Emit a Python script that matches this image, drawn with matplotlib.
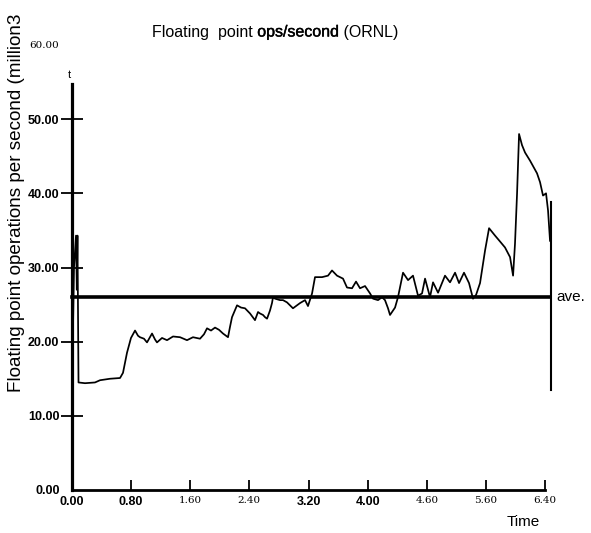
import matplotlib
matplotlib.use("Agg")
import matplotlib.pyplot as plt
import matplotlib.patheffects as pe

# ---- data ----
time = [0.000, 0.027, 0.054, 0.065, 0.074, 0.088, 0.176, 0.311, 0.379, 0.514,
        0.650, 0.690, 0.744, 0.798, 0.853, 0.893, 0.920, 0.974, 1.015, 1.083,
        1.123, 1.150, 1.218, 1.286, 1.367, 1.462, 1.556, 1.637, 1.732, 1.786,
        1.827, 1.881, 1.935, 1.989, 2.043, 2.111, 2.138, 2.165, 2.233, 2.287,
        2.341, 2.409, 2.476, 2.517, 2.544, 2.585, 2.612, 2.639, 2.679, 2.706,
        2.720, 2.747, 2.815, 2.855, 2.909, 2.990, 3.085, 3.153, 3.193, 3.248,
        3.288, 3.383, 3.464, 3.518, 3.586, 3.667, 3.721, 3.789, 3.843, 3.897,
        3.965, 4.033, 4.073, 4.141, 4.195, 4.235, 4.276, 4.303, 4.371, 4.411,
        4.479, 4.547, 4.614, 4.682, 4.736, 4.777, 4.844, 4.885, 4.953, 5.047,
        5.115, 5.183, 5.237, 5.304, 5.372, 5.426, 5.467, 5.521, 5.589, 5.643,
        5.724, 5.792, 5.859, 5.927, 5.968, 5.994, 6.022, 6.049, 6.089, 6.130,
        6.198, 6.292, 6.333, 6.373, 6.414, 6.441, 6.468]
flops = [13.5, 30.0, 34.3, 27.0, 34.3, 14.5, 14.4, 14.5, 14.8, 15.0,
         15.1, 15.8, 18.5, 20.5, 21.5, 20.8, 20.6, 20.4, 19.9, 21.1,
         20.3, 19.9, 20.5, 20.2, 20.7, 20.6, 20.2, 20.6, 20.4, 21.0,
         21.8, 21.5, 21.9, 21.6, 21.1, 20.6, 22.0, 23.3, 24.9, 24.6,
         24.5, 23.8, 22.9, 24.0, 23.8, 23.6, 23.3, 23.1, 24.2, 25.2,
         26.0, 25.8, 25.6, 25.6, 25.3, 24.5, 25.2, 25.6, 24.8, 26.5,
         28.7, 28.7, 28.9, 29.6, 28.9, 28.5, 27.3, 27.2, 28.1, 27.2,
         27.5, 26.5, 25.8, 25.6, 26.0, 25.6, 24.5, 23.6, 24.6, 26.0,
         29.3, 28.3, 28.9, 26.2, 26.5, 28.5, 26.0, 28.0, 26.6, 28.9,
         28.0, 29.3, 27.9, 29.3, 27.9, 25.8, 26.3, 27.9, 32.3, 35.3,
         34.3, 33.5, 32.7, 31.4, 28.9, 33.2, 40.0, 48.0, 46.5, 45.5,
         44.4, 42.7, 41.5, 39.7, 40.0, 37.7, 33.6]
average = 26.0
end_time = [6.475, 6.475]
end_range = [38.8, 13.5]

xtick_vals = [0.0, 0.8, 1.6, 2.4, 3.2, 4.0, 4.8, 5.6, 6.4]
xtick_labels = ["0.00", "0.80", "1.60", "2.40", "3.20", "4.00", "4.60", "5.60", "6.40"]
xtick_bold = [True, True, False, False, True, True, False, False, False]
ytick_vals = [0, 10, 20, 30, 40, 50, 60]
ytick_labels = ["0.00", "10.00", "20.00", "30.00", "40.00", "50.00", "60.00"]
ytick_bold = [True, True, True, True, True, True, False]

W, H = 591, 533
fig = plt.figure(figsize=(W / 100, H / 100), dpi=100)
ax = fig.add_axes([72 / W, (H - 490) / H, (545 - 72) / W, (490 - 45) / H])
ax.set_xlim(0, 6.4)
ax.set_ylim(0, 60)

ax.plot(time, flops, color="black", lw=1.25, clip_on=False, zorder=3)
ax.plot([0, 6.468], [average, average], color="black", lw=2.6, clip_on=False, zorder=4)
ax.plot(end_time, end_range, color="black", lw=1.5, clip_on=False, zorder=4)

for s in ["top", "right"]:
    ax.spines[s].set_visible(False)
ax.spines["left"].set_linewidth(2.3)
ax.spines["left"].set_bounds(0, 54.8)
ax.spines["bottom"].set_linewidth(2.0)

ax.set_xticks(xtick_vals)
ax.set_xticklabels(xtick_labels)
ax.set_yticks(ytick_vals)
ax.set_yticklabels(ytick_labels)
ax.tick_params(axis="x", direction="in", length=7, width=1.3, pad=4)
ax.tick_params(axis="y", direction="inout", length=16, width=1.3, pad=1)
yt = ax.yaxis.get_major_ticks()
yt[0].tick1line.set_visible(False)
yt[-1].tick1line.set_visible(False)

for lbl, b in zip(ax.get_xticklabels(), xtick_bold):
    if b:
        lbl.set_fontfamily("Liberation Sans"); lbl.set_fontweight("bold"); lbl.set_fontsize(9)
    else:
        lbl.set_fontfamily("DejaVu Serif"); lbl.set_fontsize(7.5)
for lbl, b in zip(ax.get_yticklabels(), ytick_bold):
    if b:
        lbl.set_fontfamily("Liberation Sans"); lbl.set_fontweight("bold"); lbl.set_fontsize(9)
    else:
        lbl.set_fontfamily("DejaVu Serif"); lbl.set_fontsize(7.5)

ax.text(-0.04, 55.3, "t", fontsize=8, family="Liberation Sans", ha="center", va="bottom")
ax.text(6.55, average, "ave.", fontsize=11, family="Liberation Sans", ha="left", va="center")

fig.text(523 / W, (H - 522) / H, "Time", fontsize=11, family="Liberation Sans",
         ha="center", va="center")
fig.text(17 / W, (H - 392) / H, "Floating point operations per second (million3",
         rotation=90, fontsize=13.6, family="Liberation Sans", ha="center", va="bottom")

t1 = fig.text(152 / W, (H - 32) / H, "Floating  point ", fontsize=11.5,
              family="Liberation Sans", ha="left", va="center")
t2 = ax.annotate("ops/second", xy=(1, 0), xycoords=t1, fontsize=11.5,
                 family="Liberation Sans", ha="left", va="bottom",
                 path_effects=[pe.withStroke(linewidth=0.3, foreground="black")])
t3 = ax.annotate(" (ORNL)", xy=(1, 0), xycoords=t2, fontsize=11.5,
                 family="Liberation Sans", ha="left", va="bottom")

fig.savefig("out.png", dpi=100)
